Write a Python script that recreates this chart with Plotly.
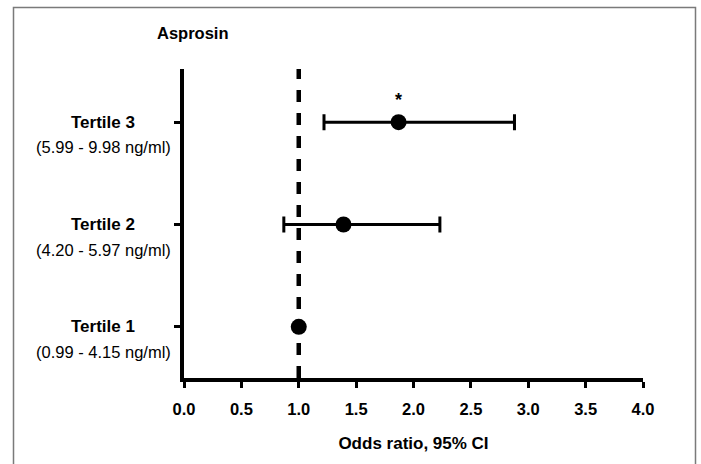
import plotly.graph_objects as go

# Data
categories = ["Tertile 1", "Tertile 2", "Tertile 3"]
ranges = ["(0.99 - 4.15 ng/ml)", "(4.20 - 5.97 ng/ml)", "(5.99 - 9.98 ng/ml)"]
y_pos = [1, 2, 3]
odds_ratio = [1.00, 1.39, 1.87]
ci_low = [1.00, 0.87, 1.22]
ci_high = [1.00, 2.23, 2.88]
significant = [False, False, True]
ref_value = 1.0
x_ticks = [0.0, 0.5, 1.0, 1.5, 2.0, 2.5, 3.0, 3.5, 4.0]

FONT = "Liberation Sans, Arial, sans-serif"
FS = 17

# geometry in pixels
W, H = 701, 464
L, R, T, B = 184, 58, 69, 86
pw = W - L - R
ph = H - T - B

def px_to_paper_x(px):
    return (px - L) / pw

def px_to_paper_y(py):
    return (H - B - py) / ph

fig = go.Figure()

# reference dashed line
fig.add_trace(go.Scatter(
    x=[ref_value, ref_value], y=[0.5, 3.52], mode="lines",
    line=dict(color="black", width=4.5, dash="12px,11px"),
    hoverinfo="skip", showlegend=False, cliponaxis=False,
))

err_plus = [h - o for h, o in zip(ci_high, odds_ratio)]
err_minus = [o - l for o, l in zip(odds_ratio, ci_low)]
show_err = [h > l for h, l in zip(ci_high, ci_low)]
fig.add_trace(go.Scatter(
    x=[o for o, s in zip(odds_ratio, show_err) if s],
    y=[y for y, s in zip(y_pos, show_err) if s],
    mode="markers",
    marker=dict(color="black", size=1),
    error_x=dict(type="data", symmetric=False,
                 array=[e for e, s in zip(err_plus, show_err) if s],
                 arrayminus=[e for e, s in zip(err_minus, show_err) if s],
                 color="black", thickness=3, width=8),
    showlegend=False,
))
fig.add_trace(go.Scatter(
    x=odds_ratio, y=y_pos, mode="markers",
    marker=dict(color="black", size=16),
    showlegend=False, cliponaxis=False,
))

annotations = []
for cat, rng, y in zip(categories, ranges, y_pos):
    annotations.append(dict(
        x=px_to_paper_x(103), xref="paper", y=y, yref="y",
        text="<b>" + cat + "</b>", showarrow=False,
        font=dict(family=FONT, size=FS, color="black"),
        xanchor="center", yanchor="middle",
    ))
    annotations.append(dict(
        x=px_to_paper_x(103), xref="paper", y=y, yref="y",
        text=rng, showarrow=False, yshift=-25,
        font=dict(family=FONT, size=FS - 0.5, color="black"),
        xanchor="center", yanchor="middle",
    ))

for o, y, s in zip(odds_ratio, y_pos, significant):
    if s:
        annotations.append(dict(
            x=o, y=y, xref="x", yref="y", text="<b>*</b>", showarrow=False,
            yshift=22, font=dict(family=FONT, size=18, color="black"),
        ))

annotations.append(dict(
    x=px_to_paper_x(193), y=px_to_paper_y(33), xref="paper", yref="paper",
    text="<b>Asprosin</b>", showarrow=False,
    font=dict(family=FONT, size=16.5, color="black"),
    xanchor="center", yanchor="middle",
))

fig.update_layout(
    width=W, height=H,
    margin=dict(l=L, r=R, t=T, b=B),
    paper_bgcolor="white", plot_bgcolor="white",
    font=dict(family=FONT, color="black"),
    annotations=annotations,
    shapes=[dict(
        type="rect", xref="paper", yref="paper",
        x0=px_to_paper_x(13.5), x1=px_to_paper_x(695.5),
        y0=px_to_paper_y(520), y1=px_to_paper_y(7.5),
        line=dict(color="#7a7a7a", width=1.5), fillcolor="rgba(0,0,0,0)",
        layer="below",
    )],
    xaxis=dict(
        range=[0, 4], tickvals=x_ticks,
        ticktext=[f"{v:.1f}" for v in x_ticks],
        showline=True, linecolor="black", linewidth=4,
        ticks="outside", ticklen=6, tickwidth=3, tickcolor="black",
        showgrid=False, zeroline=False, ticklabelstandoff=7,
        tickfont=dict(family=FONT, size=16.5, color="black", weight="bold"),
        title=dict(text="<b>Odds ratio, 95% CI</b>",
                   font=dict(family=FONT, size=FS, color="black"), standoff=21),
        fixedrange=True,
    ),
    yaxis=dict(
        range=[0.5, 3.52], tickvals=y_pos, ticktext=["", "", ""],
        showline=True, linecolor="black", linewidth=4,
        ticks="outside", ticklen=6, tickwidth=3, tickcolor="black",
        showgrid=False, zeroline=False, fixedrange=True,
    ),
)

fig.write_html("out.html")
